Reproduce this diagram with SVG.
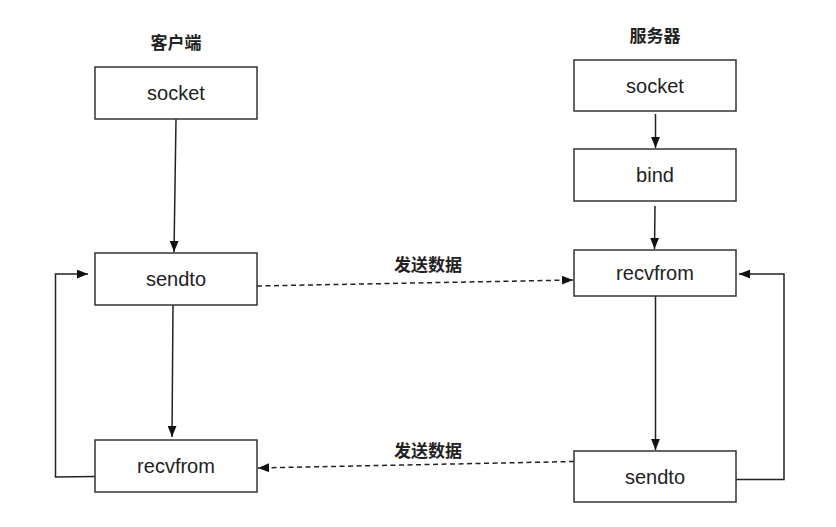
<svg xmlns="http://www.w3.org/2000/svg" width="836" height="527" viewBox="0 0 836 527">
<style>
.box{fill:#fff;stroke:#333;stroke-width:1.5}
.lbl{font-family:"Liberation Sans",Arial,sans-serif;font-size:20px;fill:#222;text-anchor:middle}
.ttl{font-family:"Noto Sans CJK SC","Liberation Sans",sans-serif;font-size:17px;font-weight:bold;fill:#222;text-anchor:middle}
.ln{fill:none;stroke:#222;stroke-width:1.5;marker-end:url(#ah)}
.dash{stroke-dasharray:5 3.5}
</style>
<defs>
<marker id="ah" viewBox="0 0 10 8" refX="10" refY="4" markerWidth="11" markerHeight="9" markerUnits="userSpaceOnUse" orient="auto">
<path d="M0,0 L10,4 L0,8 z" fill="#111"/>
</marker>
</defs>
<rect width="836" height="527" fill="#fff"/>
<text class="ttl" x="176" y="49">客户端</text>
<text class="ttl" x="655" y="42">服务器</text>
<g id="connectors">
<path class="ln" d="M176,119 L174,252"/>
<path class="ln" d="M173,305 L172,437"/>
<path class="ln" d="M95,476.5 L55.5,477 L55.5,274 L88,274"/>
<path class="ln dash" d="M257,286 L573,280"/>
<path class="ln" d="M655.5,114 L655.5,148"/>
<path class="ln" d="M655,206 L654.5,249"/>
<path class="ln" d="M655.5,296 L655.5,450"/>
<path class="ln" d="M736,479.5 L784,479.5 L784,274 L739,274"/>
<path class="ln dash" d="M574,461.5 L258,468"/>
<text class="ttl" x="428" y="271">发送数据</text>
<text class="ttl" x="428" y="457">发送数据</text>
</g>
<g id="c_socket"><rect class="box" x="95" y="67" width="162" height="52"/><text class="lbl" x="176" y="100">socket</text></g>
<g id="c_sendto"><rect class="box" x="95" y="253" width="162" height="52"/><text class="lbl" x="176" y="286">sendto</text></g>
<g id="c_recvfrom"><rect class="box" x="95" y="440" width="162" height="52"/><text class="lbl" x="176" y="473">recvfrom</text></g>
<g id="s_socket"><rect class="box" x="574" y="60" width="162" height="51"/><text class="lbl" x="655" y="92.5">socket</text></g>
<g id="s_bind"><rect class="box" x="574" y="149" width="162" height="52"/><text class="lbl" x="655" y="182">bind</text></g>
<g id="s_recvfrom"><rect class="box" x="574" y="250" width="162" height="46"/><text class="lbl" x="655" y="280">recvfrom</text></g>
<g id="s_sendto"><rect class="box" x="574" y="451" width="162" height="51"/><text class="lbl" x="655" y="483.5">sendto</text></g>
</svg>
